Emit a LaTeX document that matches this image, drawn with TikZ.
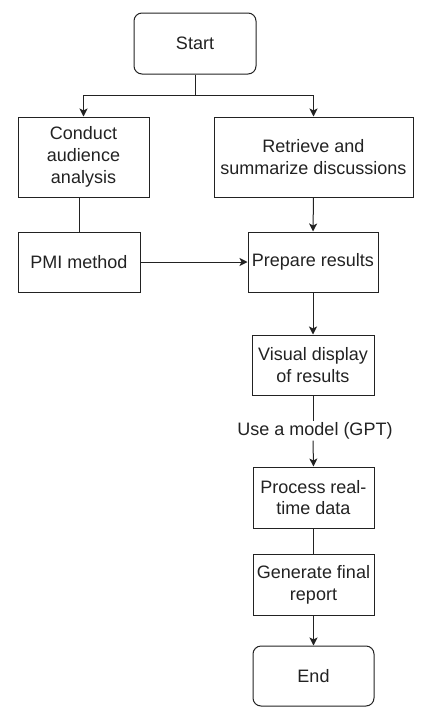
\documentclass[tikz,border=0pt]{standalone}
\usepackage{fontspec}
\setmainfont{Liberation Sans}
\usetikzlibrary{arrows.meta}
\definecolor{ink}{RGB}{34,34,34}
\tikzset{
  box/.style={draw=ink, line width=1pt, rectangle, align=center, text=ink,
    font=\fontsize{18}{21.7}\selectfont, inner sep=0pt},
  term/.style={box, rounded corners=8pt},
  conn/.style={draw=ink, line width=1pt},
  arr/.style={conn, -{Stealth[length=8pt,width=8pt,inset=2pt]}},
}
\begin{document}
\begin{tikzpicture}[x=1pt,y=-1pt]
\useasboundingbox (0,0) rectangle (432,723);
\node[term, minimum width=122pt, minimum height=61pt] (start) at (195,43.5) {Start};
\node[box, minimum width=131pt, minimum height=80pt] (conduct) at (83.5,157) {Conduct\\audience\\analysis};
\node[box, minimum width=199pt, minimum height=80pt] (retrieve) at (313.5,157) {Retrieve and\\summarize discussions};
\node[box, minimum width=122pt, minimum height=60pt] (pmi) at (79,262) {PMI method};
\node[box, minimum width=130pt, minimum height=60pt] (prepare) at (313,262) {Prepare results};
\node[box, minimum width=122pt, minimum height=60pt] (visual) at (313,365) {Visual display\\of results};
\node[font=\fontsize{18}{21.7}\selectfont, text=ink, fill=white, inner sep=1pt] (model) at (315,431) {Use a model (GPT)};
\node[box, minimum width=121pt, minimum height=61pt] (process) at (313.5,497.5) {Process real-\\time data};
\node[box, minimum width=121pt, minimum height=61pt] (generate) at (313.5,584.5) {Generate final\\report};
\node[term, minimum width=121pt, minimum height=60pt] (end) at (313.5,676) {End};
\coordinate (split) at (195,95);
\draw[conn] (start.south) -- (split);
\draw[arr] (split) -| (conduct.north);
\draw[arr] (split) -| (retrieve.north);
\draw[conn] (pmi.north) -- (pmi.north |- conduct.south);
\draw[arr] (retrieve.south) -- (prepare.north);
\draw[arr] (pmi.east) -- (prepare.west);
\draw[arr] (prepare.south) -- (visual.north);
\draw[conn] (visual.south) -- (visual.south |- model.north);
\draw[arr] (visual.south |- model.south) -- (process.north);
\draw[conn] (process.south) -- (generate.north);
\draw[arr] (generate.south) -- (end.north);
\end{tikzpicture}
\end{document}
